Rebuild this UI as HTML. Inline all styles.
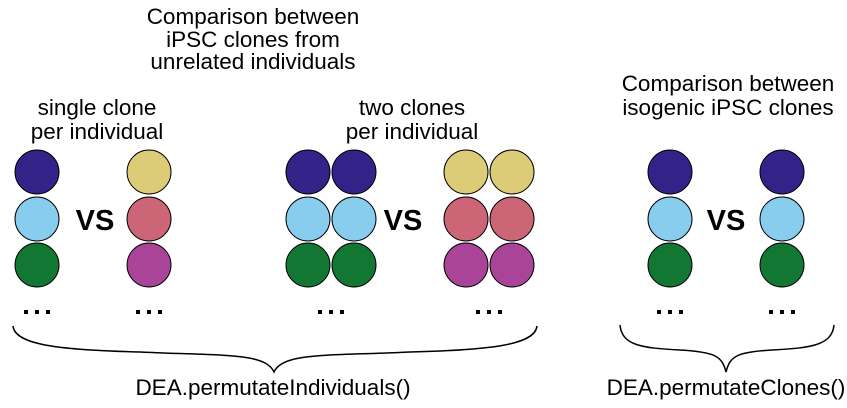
<!DOCTYPE html><html><head><style>body{margin:0;background:#fff}</style></head><body>
<svg width="847" height="403" xmlns="http://www.w3.org/2000/svg" font-family="Liberation Sans, sans-serif">
<defs><g id="d"><rect x="-13" y="-2" width="4" height="4"/><rect x="-2" y="-2" width="4" height="4"/><rect x="9" y="-2" width="4" height="4"/></g></defs>
<g font-size="22.5" text-anchor="middle" fill="#000">
<text x="253" y="24">Comparison between</text>
<text x="253" y="47">iPSC clones from</text>
<text x="253" y="69">unrelated individuals</text>
<text x="97" y="115">single clone</text>
<text x="97" y="139">per individual</text>
<text x="412" y="115">two clones</text>
<text x="412" y="139">per individual</text>
<text x="728" y="91">Comparison between</text>
<text x="728" y="115">isogenic iPSC clones</text>
<text x="273" y="395">DEA.permutateIndividuals()</text>
<text x="726" y="395">DEA.permutateClones()</text>
</g>
<g font-size="29" font-weight="bold" text-anchor="middle">
<text x="95" y="230">VS</text><text x="403" y="230">VS</text><text x="726" y="230">VS</text>
</g>
<g stroke="#000" stroke-width="1">
<g fill="#332288"><circle cx="37" cy="172" r="22"/><circle cx="308" cy="172" r="22"/><circle cx="354" cy="172" r="22"/><circle cx="670" cy="172" r="22"/><circle cx="782" cy="172" r="22"/></g>
<g fill="#88CCEE"><circle cx="37" cy="219" r="22"/><circle cx="308" cy="219" r="22"/><circle cx="354" cy="219" r="22"/><circle cx="670" cy="219" r="22"/><circle cx="782" cy="219" r="22"/></g>
<g fill="#117733"><circle cx="37" cy="265" r="22"/><circle cx="308" cy="265" r="22"/><circle cx="354" cy="265" r="22"/><circle cx="670" cy="265" r="22"/><circle cx="782" cy="265" r="22"/></g>
<g fill="#DDCC77"><circle cx="149" cy="172" r="22"/><circle cx="466" cy="172" r="22"/><circle cx="512" cy="172" r="22"/></g>
<g fill="#CC6677"><circle cx="149" cy="219" r="22"/><circle cx="466" cy="219" r="22"/><circle cx="512" cy="219" r="22"/></g>
<g fill="#AA4499"><circle cx="149" cy="265" r="22"/><circle cx="466" cy="265" r="22"/><circle cx="512" cy="265" r="22"/></g>
</g>
<g fill="#000">
<use href="#d" x="37" y="312"/><use href="#d" x="149" y="312"/><use href="#d" x="331" y="312"/><use href="#d" x="489" y="312"/><use href="#d" x="670" y="312"/><use href="#d" x="782" y="312"/>
</g>
<g fill="none" stroke="#000" stroke-width="1.5">
<path d="M13 326 C15 345,60 350,140 352 C220 356,265 352,274 372 C283 352,330 356,410 352 C490 350,535 345,537 326"/>
<path d="M620 325 C622 345,640 348,680 350 C715 352,722 356,726 372 C730 356,737 352,772 350 C812 348,832 345,834 325"/>
</g>
</svg></body></html>
